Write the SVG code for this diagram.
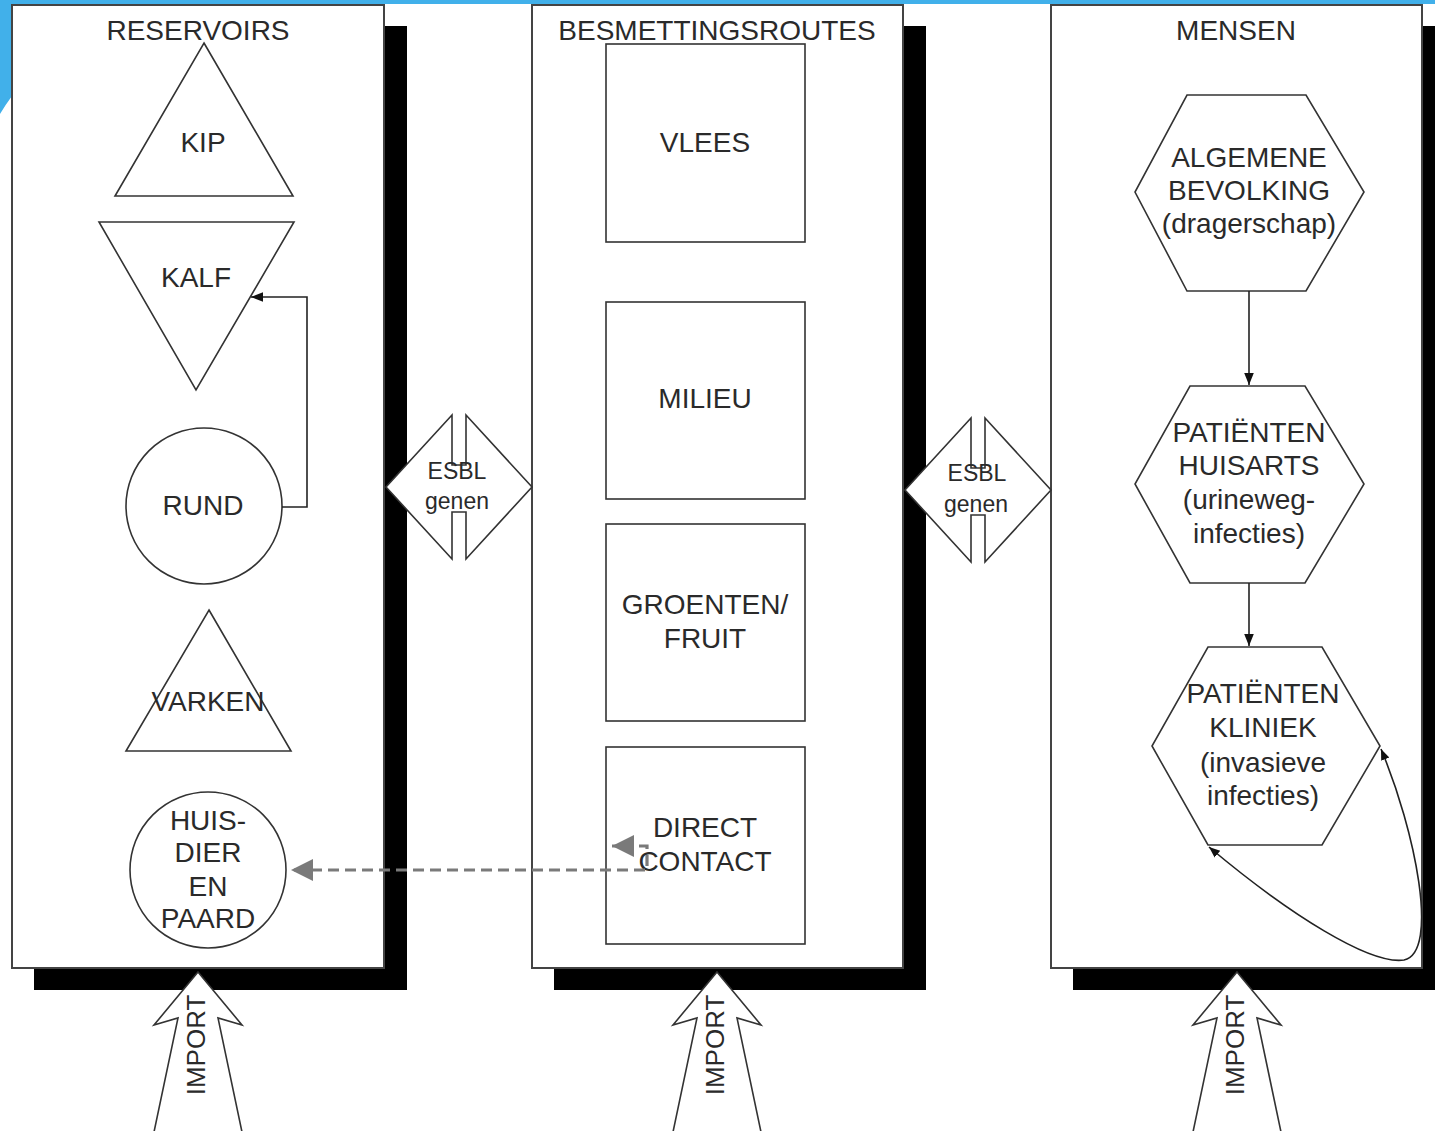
<svg xmlns="http://www.w3.org/2000/svg" width="1435" height="1131" viewBox="0 0 1435 1131">
  <style>
    .panel { fill: #fff; stroke: #444; stroke-width: 2; }
    .shadow { fill: #000; }
    .shape { fill: #fff; stroke: #333; stroke-width: 1.6; }
    .lbl { font-family: "Liberation Sans", Arial, sans-serif; font-size: 28px; fill: #2a2a2a; text-anchor: middle; }
    .small { font-size: 23px; }
    .conn { fill: none; stroke: #222; stroke-width: 1.6; }
    .dash { fill: none; stroke: #7a7a7a; stroke-width: 3.2; stroke-dasharray: 11 6; }
  </style>
  <defs>
    <marker id="arr" viewBox="0 0 10 10" refX="10" refY="5" markerWidth="12" markerHeight="12" markerUnits="userSpaceOnUse" orient="auto">
      <path d="M0,1 L10,5 L0,9 z" fill="#111"/>
    </marker>
    <marker id="arrLoop" viewBox="0 0 10 10" refX="10" refY="5" markerWidth="11" markerHeight="11" markerUnits="userSpaceOnUse" orient="auto-start-reverse">
      <path d="M0,1 L10,5 L0,9 z" fill="#111"/>
    </marker>
    <marker id="arrGrey" viewBox="0 0 10 10" refX="10" refY="5" markerWidth="7" markerHeight="7" orient="auto">
      <path d="M0,0 L10,5 L0,10 z" fill="#7a7a7a"/>
    </marker>
    <!-- horizontal double-headed arrow used between columns, centred on 0,0 -->
    <path id="esbl" d="M-6,-72 L-72,0 L-6,72 L-6,25 L8,25 L8,72 L74,0 L8,-72 L8,-22 L-6,-22 Z"/>
    <!-- upward IMPORT arrow, tip at 0,0 -->
    <path id="imp" d="M0,0 L44,53 L20,46 L44,160 L-44,160 L-20,46 L-44,53 Z"/>
  </defs>

  <!-- page background and slide accent -->
  <rect x="0" y="0" width="1435" height="1131" fill="#fff"/>
  <path d="M0,0 H1435 V4 H12 V96 Q6,104 0,114 Z" fill="#41b0ea"/>

  <!-- column shadows -->
  <g id="shadows">
    <rect class="shadow" x="34" y="26" width="373" height="964"/>
    <rect class="shadow" x="554" y="26" width="372" height="964"/>
    <rect class="shadow" x="1073" y="26" width="372" height="964"/>
  </g>

  <!-- columns -->
  <g id="col-reservoirs">
    <rect class="panel" x="12" y="5" width="372" height="963"/>
    <text class="lbl" x="198" y="40">RESERVOIRS</text>
  </g>
  <g id="col-routes">
    <rect class="panel" x="532" y="5" width="371" height="963"/>
    <text class="lbl" x="717" y="40">BESMETTINGSROUTES</text>
  </g>
  <g id="col-mensen">
    <rect class="panel" x="1051" y="5" width="371" height="963"/>
    <text class="lbl" x="1236" y="40">MENSEN</text>
  </g>

  <!-- reservoirs -->
  <g id="kip">
    <polygon class="shape" points="204,43 293,196 115,196"/>
    <text class="lbl" x="203" y="152">KIP</text>
  </g>
  <g id="kalf">
    <polygon class="shape" points="99,222 294,222 196,390"/>
    <text class="lbl" x="196" y="287">KALF</text>
  </g>
  <g id="rund">
    <circle class="shape" cx="204" cy="506" r="78"/>
    <text class="lbl" x="203" y="515">RUND</text>
  </g>
  <g id="varken">
    <polygon class="shape" points="209,610 291,751 126,751"/>
    <text class="lbl" x="208" y="711">VARKEN</text>
  </g>
  <g id="huisdier">
    <circle class="shape" cx="208" cy="870" r="78"/>
    <text class="lbl" x="208" y="830">HUIS-</text>
    <text class="lbl" x="208" y="862">DIER</text>
    <text class="lbl" x="208" y="896">EN</text>
    <text class="lbl" x="208" y="928">PAARD</text>
  </g>

  <!-- transmission routes -->
  <g id="vlees">
    <rect class="shape" x="606" y="44" width="199" height="198"/>
    <text class="lbl" x="705" y="152">VLEES</text>
  </g>
  <g id="milieu">
    <rect class="shape" x="606" y="302" width="199" height="197"/>
    <text class="lbl" x="705" y="408">MILIEU</text>
  </g>
  <g id="groenten">
    <rect class="shape" x="606" y="524" width="199" height="197"/>
    <text class="lbl" x="705" y="614">GROENTEN/</text>
    <text class="lbl" x="705" y="648">FRUIT</text>
  </g>
  <g id="direct">
    <rect class="shape" x="606" y="747" width="199" height="197"/>
    <text class="lbl" x="705" y="837">DIRECT</text>
    <text class="lbl" x="705" y="871">CONTACT</text>
  </g>

  <!-- people -->
  <g id="algemeen">
    <polygon class="shape" points="1187,95 1306,95 1364,192 1306,291 1187,291 1135,192"/>
    <text class="lbl" x="1249" y="167">ALGEMENE</text>
    <text class="lbl" x="1249" y="200">BEVOLKING</text>
    <text class="lbl" x="1249" y="233">(dragerschap)</text>
  </g>
  <g id="huisarts">
    <polygon class="shape" points="1190,386 1305,386 1364,484 1305,583 1190,583 1135,484"/>
    <text class="lbl" x="1249" y="442">PATIËNTEN</text>
    <text class="lbl" x="1249" y="475">HUISARTS</text>
    <text class="lbl" x="1249" y="509">(urineweg-</text>
    <text class="lbl" x="1249" y="543">infecties)</text>
  </g>
  <g id="kliniek">
    <polygon class="shape" points="1208,647 1322,647 1380,746 1322,845 1208,845 1152,746"/>
    <text class="lbl" x="1263" y="703">PATIËNTEN</text>
    <text class="lbl" x="1263" y="737">KLINIEK</text>
    <text class="lbl" x="1263" y="772">(invasieve</text>
    <text class="lbl" x="1263" y="805">infecties)</text>
  </g>

  <!-- exchange arrows between columns -->
  <g id="esbl-left">
    <use href="#esbl" x="458" y="487" class="shape"/>
    <text class="lbl small" x="457" y="479">ESBL</text>
    <text class="lbl small" x="457" y="509">genen</text>
  </g>
  <g id="esbl-right">
    <use href="#esbl" x="977" y="490" class="shape"/>
    <text class="lbl small" x="977" y="481">ESBL</text>
    <text class="lbl small" x="976" y="512">genen</text>
  </g>

  <!-- import arrows -->
  <g id="import-1">
    <use href="#imp" x="198" y="972" class="shape"/>
    <text class="lbl small" transform="translate(205,1045) rotate(-90)" style="font-size:26px">IMPORT</text>
  </g>
  <g id="import-2">
    <use href="#imp" x="717" y="972" class="shape"/>
    <text class="lbl small" transform="translate(724,1045) rotate(-90)" style="font-size:26px">IMPORT</text>
  </g>
  <g id="import-3">
    <use href="#imp" x="1237" y="972" class="shape"/>
    <text class="lbl small" transform="translate(1244,1045) rotate(-90)" style="font-size:26px">IMPORT</text>
  </g>

  <!-- connectors -->
  <g id="connectors">
    <path class="conn" d="M282,507 H307 V297 H251" marker-end="url(#arr)"/>
    <path class="conn" d="M1249,291 V385" marker-end="url(#arr)"/>
    <path class="conn" d="M1249,583 V646" marker-end="url(#arr)"/>
    <path class="conn" d="M1209,847 C1290,915 1370,965 1404,960 C1440,952 1415,830 1381,749" marker-start="url(#arrLoop)" marker-end="url(#arrLoop)"/>
    <path class="dash" d="M645,870 H291" marker-end="url(#arrGrey)"/>
    <path class="dash" d="M647,866 V846 H612" marker-end="url(#arrGrey)"/>
  </g>
</svg>
